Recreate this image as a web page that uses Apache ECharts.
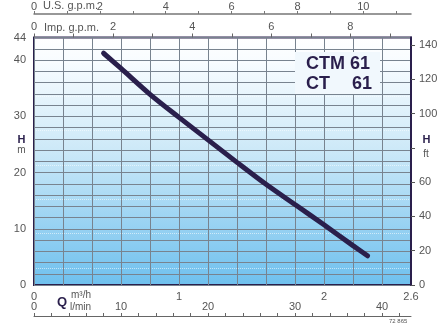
<!DOCTYPE html>
<html><head><meta charset="utf-8">
<script src="https://cdn.jsdelivr.net/npm/echarts@6/dist/echarts.min.js"></script>
<style>html,body{margin:0;padding:0;background:#fff}#c{width:446px;height:324px}</style>
</head><body><div id="c"></div>
<script>
// Data: Q in m3/h, H in m
const flowM3h = [0.48, 0.6, 0.8, 1.0, 1.2, 1.4, 1.6, 1.8, 2.0, 2.2, 2.3];
const headM   = [41.2, 38.5, 33.9, 29.8, 25.8, 21.8, 17.9, 14.3, 10.7, 7.0, 5.2];
const m3hLabels = [0, 1, 2, 2.6];
const lminLabels = [0, 10, 20, 30, 40];
const mLabels = [0, 10, 20, 30, 40, 44];
const ftLabels = [0, 20, 40, 60, 100, 120, 140];
const usLabels = [0, 2, 4, 6, 8, 10];
const impLabels = [0, 2, 4, 6, 8];

const QMAX = 2.6, HMAX = 44;
const FT = 0.3048;
const near = (v, arr) => arr.some(a => Math.abs(a - v) < 1e-6);
const font = 'Liberation Sans';
const gray = '#555';
const navy = '#2a1f4c';

const chart = echarts.init(document.getElementById('c'));
chart.setOption({
  animation: false,
  grid: {
    left: 34, top: 37.5, width: 377, height: 247.5, show: true,
    borderColor: navy, borderWidth: 2,
    backgroundColor: {type: 'linear', x: 0, y: 0, x2: 0, y2: 1, colorStops: [
      {offset: 0, color: '#ffffff'}, {offset: 0.1, color: '#f8fcff'},
      {offset: 0.45, color: '#cde9f8'}, {offset: 1, color: '#6ec0ee'}]}
  },
  xAxis: [
    { type: 'value', position: 'bottom', min: 0, max: QMAX, interval: 0.2,
      axisLine: {show: false, onZero: false}, axisTick: {show: false},
      splitLine: {show: true, lineStyle: {color: '#78838f', width: 1}},
      axisLabel: {margin: 6, color: gray, fontFamily: font, fontSize: 11, showMaxLabel: true,
        formatter: v => near(v, m3hLabels) ? String(Math.round(v * 10) / 10) : ''} },
    { type: 'value', position: 'bottom', offset: 31, min: 0, max: QMAX * 1000 / 60, interval: 2,
      axisLine: {show: true, onZero: false, lineStyle: {color: '#666', width: 1}},
      axisTick: {show: true, inside: true, length: 3, lineStyle: {color: '#666'}},
      splitLine: {show: false},
      axisLabel: {inside: true, margin: 4, color: gray, fontFamily: font, fontSize: 11, showMaxLabel: false,
        formatter: v => near(v, lminLabels) ? String(v) : ''} },
    { type: 'value', position: 'top', min: 0, max: QMAX * 1000 / 60 / 4.54609, interval: 1,
      axisLine: {show: false, onZero: false},
      axisTick: {show: true, length: 4, lineStyle: {color: '#666'}},
      splitLine: {show: false},
      axisLabel: {margin: 5, color: gray, fontFamily: font, fontSize: 11, showMaxLabel: false,
        formatter: v => near(v, impLabels) ? String(v) : ''} },
    { type: 'value', position: 'top', offset: 23.5, min: 0, max: QMAX * 1000 / 60 / 3.785411784, interval: 1,
      axisLine: {show: true, onZero: false, lineStyle: {color: '#777', width: 1.5}},
      axisTick: {show: true, length: 3, lineStyle: {color: '#777'}},
      splitLine: {show: false},
      axisLabel: {margin: 2, color: gray, fontFamily: font, fontSize: 11, showMaxLabel: false,
        formatter: v => near(v, usLabels) ? String(v) : ''} }
  ],
  yAxis: [
    { type: 'value', position: 'left', min: 0, max: HMAX, interval: 2,
      axisLine: {show: false, onZero: false}, axisTick: {show: false},
      splitLine: {show: true, lineStyle: {color: '#78838f', width: 1}},
      axisLabel: {margin: 8, color: gray, fontFamily: font, fontSize: 11, showMaxLabel: true,
        formatter: v => near(v, mLabels) ? String(v) : ''} },
    { type: 'value', position: 'right', min: 0, max: HMAX / FT, interval: 20,
      axisLine: {show: true, onZero: false, lineStyle: {color: navy, width: 2}},
      axisTick: {show: true, length: 4, lineStyle: {color: '#555'}},
      minorTick: {show: false, splitNumber: 2},
      splitLine: {show: false},
      minorSplitLine: {show: true, lineStyle: {color: 'rgba(255,255,255,0.55)', type: 'dotted', width: 1}},
      axisLabel: {margin: 8, color: gray, fontFamily: font, fontSize: 11, showMaxLabel: false,
        formatter: v => near(v, ftLabels) ? String(v) : ''} }
  ],
  series: [{
    type: 'line', xAxisIndex: 0, yAxisIndex: 0, smooth: 0.3, symbol: 'none',
    lineStyle: {color: navy, width: 5, cap: 'round'},
    data: flowM3h.map((q, i) => [q, headM[i]]), z: 5
  }],
  graphic: [
    {type: 'rect', shape: {x: 295, y: 52, width: 85, height: 42}, style: {fill: '#f1f8fd'}, z: 3},
    {type: 'text', x: 306, y: 64, style: {text: 'CTM 61', font: 'bold 18px "Liberation Sans"', fill: navy, verticalAlign: 'middle'}, z: 4},
    {type: 'text', x: 306, y: 84, style: {text: 'CT', font: 'bold 18px "Liberation Sans"', fill: navy, verticalAlign: 'middle'}, z: 4},
    {type: 'text', x: 352, y: 84, style: {text: '61', font: 'bold 18px "Liberation Sans"', fill: navy, verticalAlign: 'middle'}, z: 4},
    {type: 'text', x: 21.5, y: 139.5, style: {text: 'H', font: 'bold 11px "Liberation Sans"', fill: navy, align: 'center', verticalAlign: 'middle'}},
    {type: 'text', x: 21.5, y: 150, style: {text: 'm', font: '10px "Liberation Sans"', fill: gray, align: 'center', verticalAlign: 'middle'}},
    {type: 'text', x: 426.5, y: 139.5, style: {text: 'H', font: 'bold 11px "Liberation Sans"', fill: navy, align: 'center', verticalAlign: 'middle'}},
    {type: 'text', x: 426, y: 154, style: {text: 'ft', font: '10px "Liberation Sans"', fill: gray, align: 'center', verticalAlign: 'middle'}},
    {type: 'text', x: 57, y: 302, style: {text: 'Q', font: 'bold 13px "Liberation Sans"', fill: navy, verticalAlign: 'middle'}},
    {type: 'text', x: 71, y: 295, style: {text: 'm³/h', font: '10px "Liberation Sans"', fill: gray, verticalAlign: 'middle'}},
    {type: 'text', x: 70, y: 307, style: {text: 'l/min', font: '10px "Liberation Sans"', fill: gray, verticalAlign: 'middle'}},
    {type: 'text', x: 43, y: 5.5, style: {text: 'U.S. g.p.m.', font: '11px "Liberation Sans"', fill: gray, verticalAlign: 'middle'}},
    {type: 'text', x: 44, y: 27.5, style: {text: 'Imp. g.p.m.', font: '11px "Liberation Sans"', fill: gray, verticalAlign: 'middle'}},
    {type: 'text', x: 389, y: 321, style: {text: '72 865', font: '6px "Liberation Sans"', fill: gray, verticalAlign: 'middle'}}
  ]
});
</script></body></html>
